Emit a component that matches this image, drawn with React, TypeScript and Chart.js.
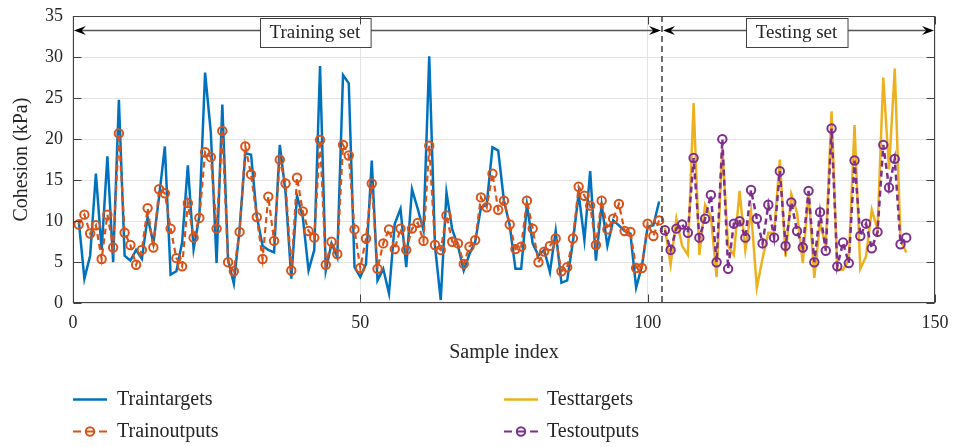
import React, { useEffect, useRef } from "react";
import { Chart, registerables } from "chart.js";

Chart.register(...registerables);

// ---------- data ----------
const TRAIN_START = 1;
const TEST_START = 103;
const SPLIT_X = 102.5;

const TRAIN_TARGETS = [
  10.2, 3.0, 5.8, 15.8, 6.5, 17.9, 5.0, 24.8, 5.8, 5.2,
  6.5, 5.4, 10.5, 7.3, 13.0, 19.1, 3.5, 3.9, 7.4, 16.8,
  6.6, 10.6, 28.1, 20.8, 4.9, 24.2, 5.3, 2.4, 9.0, 18.3,
  18.1, 10.6, 7.0, 6.5, 6.2, 19.3, 13.5, 3.0, 13.1, 10.5,
  4.0, 6.5, 28.9, 4.0, 7.3, 5.6, 27.8, 26.8, 4.4, 3.2,
  4.8, 17.4, 2.8, 4.2, 1.2, 9.7, 11.5, 4.4, 13.9, 11.5,
  8.9, 30.1, 7.0, 0.4, 13.5, 9.0, 7.0, 4.0, 6.0, 7.5,
  11.7, 12.0, 19.0, 18.6, 12.5, 9.5, 4.2, 4.2, 12.0, 7.3,
  5.8, 6.5, 3.8, 8.8, 2.5, 2.8, 7.5, 13.4, 7.7, 16.1,
  5.2, 12.0, 7.0, 10.1, 9.5, 8.8, 8.5, 1.9, 4.5, 9.3,
  9.5, 12.4,
];

const TRAIN_OUTPUTS = [
  9.6, 10.8, 8.5, 9.5, 5.4, 10.8, 6.8, 20.7, 8.6, 7.1,
  4.7, 6.5, 11.6, 6.8, 13.9, 13.4, 9.1, 5.5, 4.5, 12.2,
  8.0, 10.4, 18.4, 17.8, 9.1, 21.0, 5.0, 3.9, 8.7, 19.1,
  15.7, 10.5, 5.4, 13.0, 7.6, 17.5, 14.6, 4.0, 15.3, 11.2,
  8.8, 8.0, 19.9, 4.7, 7.5, 6.0, 19.3, 18.0, 9.0, 4.3,
  7.9, 14.6, 4.2, 7.3, 9.0, 6.6, 9.1, 6.5, 9.1, 9.8,
  7.6, 19.2, 7.1, 6.5, 10.7, 7.5, 7.3, 4.8, 6.9, 7.7,
  12.9, 11.7, 15.8, 11.4, 12.5, 9.6, 6.6, 6.9, 12.5, 9.1,
  5.0, 6.3, 7.0, 7.9, 3.9, 4.4, 7.9, 14.2, 13.1, 11.9,
  7.1, 12.5, 9.0, 10.3, 12.1, 8.8, 8.7, 4.3, 4.3, 9.7,
  8.2, 10.1,
];

const TEST_TARGETS = [
  9.2, 4.7, 10.3, 7.0, 5.9, 24.4, 5.9, 12.0, 10.6, 3.2,
  18.9, 7.0, 5.9, 13.7, 6.5, 11.2, 1.9, 5.5, 8.6, 8.6,
  17.5, 5.7, 13.3, 11.0, 4.9, 13.5, 3.1, 9.8, 7.0, 23.4,
  4.1, 4.1, 5.3, 21.7, 4.2, 5.7, 11.4, 9.0, 27.5, 16.3,
  28.6, 7.8, 6.2,
];

const TEST_OUTPUTS = [
  8.9, 6.5, 9.1, 9.6, 8.6, 17.7, 8.0, 10.3, 13.2, 5.0,
  20.0, 4.2, 9.7, 10.0, 8.0, 13.8, 10.3, 7.3, 12.0, 8.0,
  16.1, 7.0, 12.3, 8.8, 6.8, 13.7, 5.0, 11.1, 6.4, 21.3,
  4.5, 7.4, 4.9, 17.4, 8.2, 9.7, 6.7, 8.7, 19.3, 14.1,
  17.6, 7.2, 8.0,
];

const SERIES_LABELS = ["Traintargets", "Trainoutputs", "Testtargets", "Testoutputs"];
const REGION_LABELS = ["Training set", "Testing set"];
const X_TITLE = "Sample index";
const Y_TITLE = "Cohesion (kPa)";

// ---------- styling ----------
const FONT = '"Liberation Serif", "Times New Roman", serif';
const C_BLUE = "#0072BD";
const C_ORANGE = "#D95319";
const C_YELLOW = "#EDB120";
const C_PURPLE = "#7E2F8E";
const C_TEXT = "#262626";
const C_AXIS = "#404040";
const C_GRID = "#e3e3e3";

const ARROW_Y = 33.3;
const TRAIN_LABEL_X = 42.1;
const TEST_LABEL_X = 125.9;

const toPoints = (arr: number[], start: number) => arr.map((v, i) => ({ x: start + i, y: v }));

function arrowHead(ctx: CanvasRenderingContext2D, tipX: number, y: number, dir: number) {
  const L = 12, W = 4.5;
  ctx.beginPath();
  ctx.moveTo(tipX, y);
  ctx.lineTo(tipX - dir * L, y - W);
  ctx.lineTo(tipX - dir * L * 0.65, y);
  ctx.lineTo(tipX - dir * L, y + W);
  ctx.closePath();
  ctx.fill();
}

function labelBox(ctx: CanvasRenderingContext2D, text: string, cx: number, cy: number) {
  ctx.font = `19px ${FONT}`;
  const w = ctx.measureText(text).width + 20;
  const h = 29;
  const x0 = Math.round(cx - w / 2) + 0.5;
  const y0 = Math.round(cy - h / 2) + 0.5;
  ctx.fillStyle = "#ffffff";
  ctx.fillRect(x0, y0, w, h);
  ctx.strokeStyle = C_AXIS;
  ctx.lineWidth = 1;
  ctx.strokeRect(x0, y0, w, h);
  ctx.fillStyle = C_TEXT;
  ctx.textAlign = "center";
  ctx.textBaseline = "middle";
  ctx.fillText(text, cx, cy + 1);
}

const overlayPlugin = {
  id: "overlay",
  afterDatasetsDraw(chart: any) {
    const { ctx, chartArea: a, scales } = chart;
    const x = scales.x, y = scales.y;
    ctx.save();
    const sx = x.getPixelForValue(SPLIT_X);
    ctx.strokeStyle = C_AXIS;
    ctx.lineWidth = 1.5;
    ctx.setLineDash([6, 4]);
    ctx.beginPath();
    ctx.moveTo(sx, a.top);
    ctx.lineTo(sx, a.bottom);
    ctx.stroke();
    ctx.setLineDash([]);
    const ay = Math.round(y.getPixelForValue(ARROW_Y)) + 0.5;
    const x0 = x.getPixelForValue(0);
    const x1 = x.getPixelForValue(150);
    ctx.strokeStyle = "#555555";
    ctx.lineWidth = 1.3;
    ctx.beginPath();
    ctx.moveTo(x0 + 4, ay);
    ctx.lineTo(sx - 4, ay);
    ctx.moveTo(sx + 4, ay);
    ctx.lineTo(x1 - 4, ay);
    ctx.stroke();
    ctx.fillStyle = "#000000";
    arrowHead(ctx, x0 + 1, ay, -1);
    arrowHead(ctx, sx - 1, ay, 1);
    arrowHead(ctx, sx + 1, ay, -1);
    arrowHead(ctx, x1 - 1, ay, 1);
    labelBox(ctx, REGION_LABELS[0], x.getPixelForValue(TRAIN_LABEL_X), ay + 2);
    labelBox(ctx, REGION_LABELS[1], x.getPixelForValue(TEST_LABEL_X), ay + 2);
    ctx.restore();
  },
  afterDraw(chart: any) {
    const { ctx, chartArea: a, scales } = chart;
    const x = scales.x, y = scales.y;
    ctx.save();
    ctx.strokeStyle = C_AXIS;
    ctx.lineWidth = 1;
    const L = Math.round(a.left) + 0.5, R = Math.round(a.right) - 0.5;
    const T = Math.round(a.top) + 0.5, B = Math.round(a.bottom) - 0.5;
    ctx.strokeRect(L, T, R - L, B - T);
    const tl = 8;
    ctx.beginPath();
    x.ticks.forEach((t: any) => {
      const px = Math.round(x.getPixelForValue(t.value)) + 0.5;
      ctx.moveTo(px, B); ctx.lineTo(px, B - tl);
      ctx.moveTo(px, T); ctx.lineTo(px, T + tl);
    });
    y.ticks.forEach((t: any) => {
      const py = Math.round(y.getPixelForValue(t.value)) + 0.5;
      ctx.moveTo(L, py); ctx.lineTo(L + tl, py);
      ctx.moveTo(R, py); ctx.lineTo(R - tl, py);
    });
    ctx.stroke();

    const rows = [399, 431];
    const cols = [{ l0: 73, l1: 107, tx: 117 }, { l0: 504, l1: 538, tx: 547 }];
    const items = [
      { label: SERIES_LABELS[0], color: C_BLUE, marker: false, col: 0, row: 0 },
      { label: SERIES_LABELS[1], color: C_ORANGE, marker: true, col: 0, row: 1 },
      { label: SERIES_LABELS[2], color: C_YELLOW, marker: false, col: 1, row: 0 },
      { label: SERIES_LABELS[3], color: C_PURPLE, marker: true, col: 1, row: 1 },
    ];
    items.forEach((it) => {
      const c = cols[it.col];
      const ry = rows[it.row] + 0.5;
      ctx.strokeStyle = it.color;
      ctx.lineWidth = 2.5;
      if (!it.marker) {
        ctx.beginPath();
        ctx.moveTo(c.l0, ry);
        ctx.lineTo(c.l1, ry);
        ctx.stroke();
      } else {
        const mid = (c.l0 + c.l1) / 2;
        ctx.lineWidth = 2;
        ctx.beginPath();
        ctx.moveTo(c.l0, ry); ctx.lineTo(c.l0 + 8, ry);
        ctx.moveTo(mid - 4, ry); ctx.lineTo(mid + 4, ry);
        ctx.moveTo(c.l1 - 8, ry); ctx.lineTo(c.l1, ry);
        ctx.stroke();
        ctx.beginPath();
        ctx.arc(mid, ry, 4.2, 0, Math.PI * 2);
        ctx.stroke();
      }
      ctx.fillStyle = C_TEXT;
      ctx.font = `20px ${FONT}`;
      ctx.textAlign = "left";
      ctx.textBaseline = "middle";
      ctx.fillText(it.label, c.tx, ry);
    });
    ctx.restore();
  },
};

export default function App() {
  const ref = useRef<HTMLCanvasElement | null>(null);
  useEffect(() => {
    document.body.style.margin = "0";
    const canvas = ref.current;
    if (!canvas) return;
    const chart = new Chart(canvas, {
      type: "line",
      data: {
        datasets: [
          {
            label: SERIES_LABELS[0],
            data: toPoints(TRAIN_TARGETS, TRAIN_START),
            borderColor: C_BLUE,
            borderWidth: 2.5,
            pointRadius: 0,
            tension: 0,
            order: 4,
          },
          {
            label: SERIES_LABELS[1],
            data: toPoints(TRAIN_OUTPUTS, TRAIN_START),
            borderColor: C_ORANGE,
            borderWidth: 2.2,
            borderDash: [6, 4],
            pointRadius: 4.2,
            pointBorderWidth: 2,
            pointBorderColor: C_ORANGE,
            pointBackgroundColor: "rgba(0,0,0,0)",
            tension: 0,
            order: 3,
          },
          {
            label: SERIES_LABELS[2],
            data: toPoints(TEST_TARGETS, TEST_START),
            borderColor: C_YELLOW,
            borderWidth: 2.5,
            pointRadius: 0,
            tension: 0,
            order: 2,
          },
          {
            label: SERIES_LABELS[3],
            data: toPoints(TEST_OUTPUTS, TEST_START),
            borderColor: C_PURPLE,
            borderWidth: 2.5,
            borderDash: [6, 4],
            pointRadius: 4.2,
            pointBorderWidth: 2,
            pointBorderColor: C_PURPLE,
            pointBackgroundColor: "rgba(0,0,0,0)",
            tension: 0,
            order: 1,
          },
        ],
      },
      options: {
        animation: false,
        responsive: true,
        maintainAspectRatio: false,
        layout: { padding: { left: 0, top: 16, right: 20, bottom: 82 } },
        plugins: { legend: { display: false }, tooltip: { enabled: false } },
        scales: {
          x: {
            type: "linear",
            min: 0,
            max: 150,
            ticks: {
              stepSize: 50,
              font: { family: FONT, size: 18 },
              color: C_TEXT,
              padding: 9,
              maxRotation: 0,
            },
            grid: { color: C_GRID, drawTicks: false, lineWidth: 1 },
            border: { display: false },
            title: {
              display: true,
              text: X_TITLE,
              font: { family: FONT, size: 20 },
              color: C_TEXT,
              padding: { top: 0, bottom: 0 },
            },
            afterFit(s: any) {
              s.height = 61.7;
              s.paddingLeft = 0;
              s.paddingRight = 0;
            },
          },
          y: {
            type: "linear",
            min: 0,
            max: 35,
            ticks: {
              stepSize: 5,
              font: { family: FONT, size: 18 },
              color: C_TEXT,
              padding: 10,
            },
            grid: { color: C_GRID, drawTicks: false, lineWidth: 1 },
            border: { display: false },
            title: {
              display: true,
              text: Y_TITLE,
              font: { family: FONT, size: 20 },
              color: C_TEXT,
              padding: { top: 10, bottom: 0 },
            },
            afterFit(s: any) {
              s.width = 72.9;
              s.paddingTop = 0;
              s.paddingBottom = 0;
            },
          },
        },
      },
      plugins: [overlayPlugin],
    } as any);
    return () => chart.destroy();
  }, []);
  return (
    <div style={{ width: 955, height: 447, position: "relative" }}>
      <canvas ref={ref} />
    </div>
  );
}
